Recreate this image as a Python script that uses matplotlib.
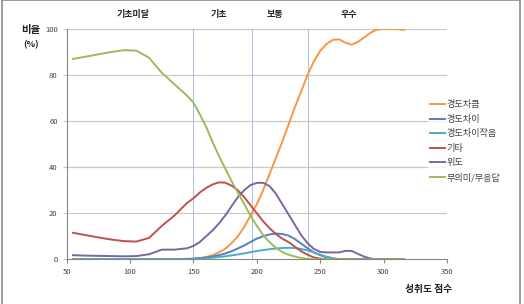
import matplotlib
matplotlib.use('Agg')
import matplotlib.pyplot as plt
from matplotlib.patches import Rectangle

plt.rcParams['font.family'] = ['Noto Sans CJK KR', 'DejaVu Sans']

# 성취도 점수 (x) and 비율 (%) per response type
score = [55, 65, 75, 85, 95, 105, 115, 125, 135, 145, 150, 155, 160, 165, 170,
         175, 180, 185, 190, 195, 200, 205, 210, 215, 220, 225, 230, 235, 240,
         245, 250, 255, 260, 265, 270, 275, 280, 285, 290, 295, 300, 305, 310, 316]

big_diff = [0, 0, 0, 0, 0, 0, 0, 0, 0, 0, 0.2, 0.5, 1, 1.8, 3,
            4.5, 7, 10, 14, 19, 24, 30, 37, 44, 51, 58.5, 66, 73, 80,
            86, 90.5, 93.5, 95.3, 95.5, 94, 93.2, 94.5, 96.5, 98.5, 99.8, 100, 100, 100, 99.6]
diff = [0, 0, 0, 0, 0, 0, 0, 0, 0, 0.2, 0.3, 0.5, 0.8, 1.2, 1.8,
        2.5, 3.5, 4.7, 6, 7.5, 9, 10, 10.8, 11.2, 11, 10.3, 8.8, 6.8, 4.8,
        3, 1.8, 0.9, 0.3, 0, 0, 0, 0, 0, 0, 0, 0, 0, 0, 0]
small_diff = [0, 0, 0, 0, 0, 0, 0, 0, 0, 0, 0, 0.2, 0.4, 0.7, 1,
              1.3, 1.7, 2.1, 2.6, 3.1, 3.6, 4, 4.4, 4.7, 4.9, 5, 4.9, 4.5, 3.9,
              3, 2, 1.1, 0.5, 0.1, 0, 0, 0, 0, 0, 0, 0, 0, 0, 0]
other = [11.5, 10.5, 9.5, 8.6, 7.9, 7.7, 9.3, 14.5, 19, 24.5, 26.5, 29, 31, 32.5, 33.4,
         33.3, 32, 30, 27, 23.5, 20, 16.5, 13.5, 11, 9, 7.5, 5.5, 3.5, 2,
         0.8, 0.3, 0, 0, 0, 0, 0, 0, 0, 0, 0, 0, 0, 0, 0]
latitude = [1.8, 1.6, 1.5, 1.4, 1.3, 1.4, 2.2, 4.2, 4.2, 4.8, 5.8, 7.5, 10, 12.5, 15.5,
            19, 23, 27, 30, 32.2, 33.2, 33.2, 31.8, 28.5, 24, 19.5, 15, 10.5, 7,
            4.5, 3.2, 3, 3, 3, 3.7, 3.6, 2.3, 1.1, 0.3, 0, 0, 0, 0, 0]
no_answer = [87, 88, 89, 90, 90.8, 90.6, 87.5, 81, 76, 71, 68, 63, 57.5, 51, 45,
             39.5, 34, 29, 24, 19, 14.5, 10.5, 7.5, 5, 3.2, 2, 1.2, 0.6, 0.2,
             0, 0, 0, 0, 0, 0, 0, 0, 0, 0, 0, 0, 0, 0, 0]

series = [('경도차큼', big_diff, '#F79646'),
          ('경도차이', diff, '#4F81BD'),
          ('경도차이작음', small_diff, '#4BACC6'),
          ('기타', other, '#C0504D'),
          ('위도', latitude, '#8064A2'),
          ('무의미/무응답', no_answer, '#9BBB59')]

cut_scores = [150, 196, 240]
levels = ['기초미달', '기초', '보통', '우수']
level_pos = [102, 170, 214, 273]

fig = plt.figure(figsize=(5.24, 3.04), dpi=100)
ax = fig.add_axes([0.1273, 0.147, 0.7257, 0.7576])

for y in [20, 40, 60, 80, 100]:
    ax.axhline(y, color='#C8C8C8', lw=0.9, zorder=0)
for x in cut_scores:
    ax.axvline(x, color='#A7BFDE', lw=0.7, zorder=1)

for name, vals, c in series:
    ax.plot(score, vals, color=c, lw=1.4, label=name, zorder=3)

ax.set_xlim(50, 350)
ax.set_ylim(0, 100)
ax.set_xticks(range(50, 351, 50))
ax.set_yticks(range(0, 101, 20))
ax.tick_params(labelsize=5.5, colors='#404040', length=3, width=0.8)
ax.tick_params(axis='x', color='#868686')
ax.tick_params(axis='y', color='#C8C8C8')
for s in ['top', 'right']:
    ax.spines[s].set_visible(False)
ax.spines['left'].set_color('#868686')
ax.spines['bottom'].set_color('#868686')
ax.spines['left'].set_linewidth(0.8)
ax.spines['bottom'].set_linewidth(0.8)

for lab, xp in zip(levels, level_pos):
    ax.text(xp, 1.0 + 14 / 230, lab, transform=ax.get_xaxis_transform(),
            ha='center', va='center', fontsize=6.5, fontweight='bold', color='#222222')

fig.text(31 / 524, 1 - 30 / 304, '비율', ha='center', va='center',
         fontsize=7.5, fontweight='bold', color='#222222')
fig.text(31 / 524, 1 - 45 / 304, '(%)', ha='center', va='center',
         fontsize=6.5, fontweight='bold', color='#222222')
fig.text(429 / 524, 1 - 289 / 304, '성취도 점수', ha='center', va='center',
         fontsize=7, fontweight='bold', color='#222222')

leg = ax.legend(loc='upper left', bbox_to_anchor=(423 / 524, 1 - 93 / 304),
                bbox_transform=fig.transFigure, fontsize=6.6, frameon=True,
                handlelength=1.6, handletextpad=0.2, labelspacing=0.6,
                borderpad=0.3, fancybox=False)
leg.get_frame().set_edgecolor('none')
leg.get_frame().set_facecolor('white')
leg.set_zorder(5)
for t in leg.get_texts():
    t.set_color('#404040')

fig.patches.append(Rectangle((2 / 524, -0.05), 518 / 524, 1.049, transform=fig.transFigure,
                             fill=False, edgecolor='#8C8C8C', lw=1.2))

fig.savefig('out.png', dpi=100)
